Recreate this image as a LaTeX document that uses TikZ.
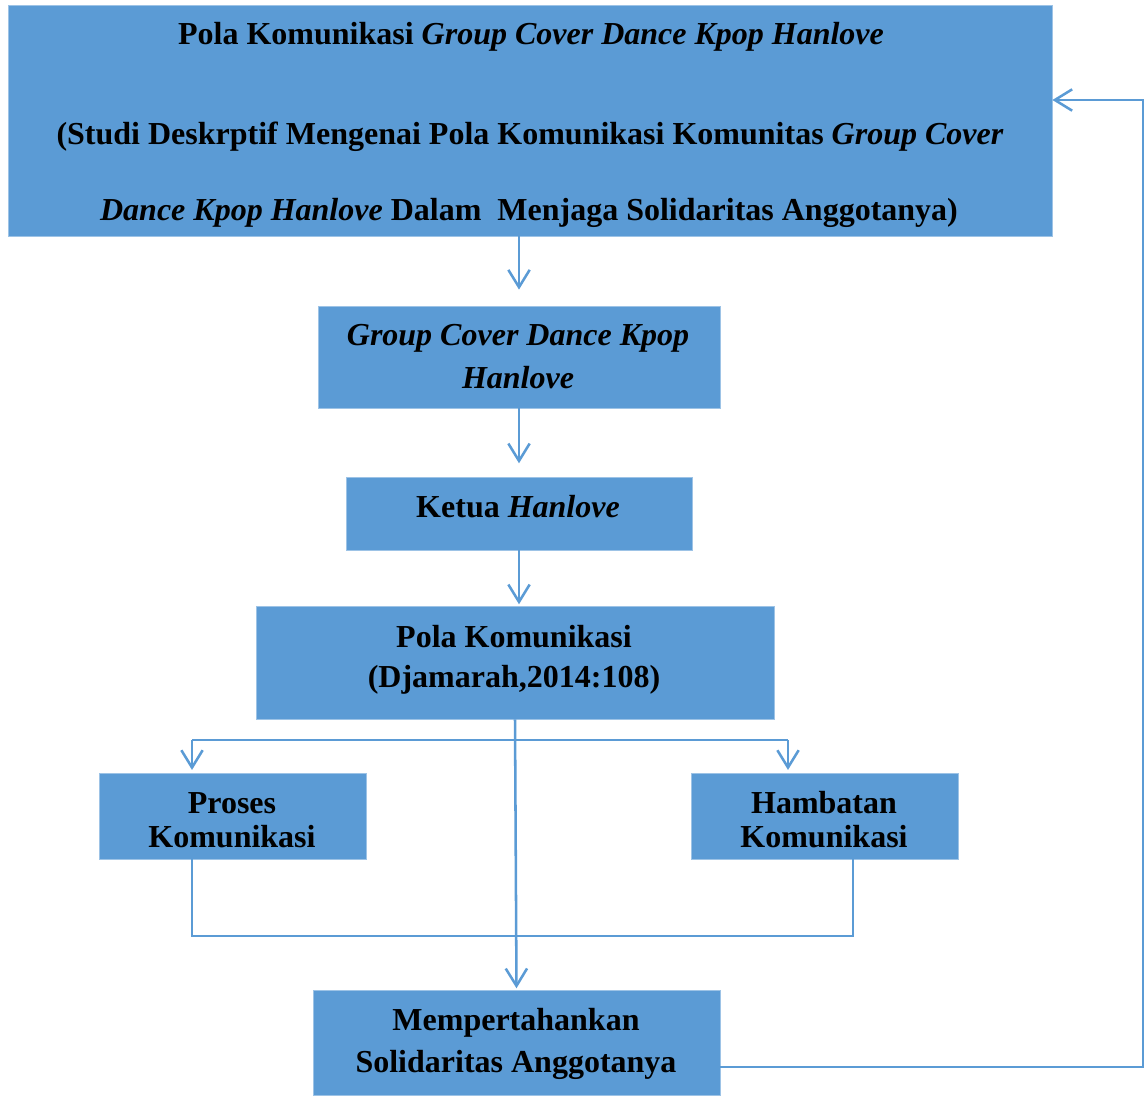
\documentclass[tikz,border=0pt]{standalone}
\usepackage{fontspec}
\setmainfont{Liberation Serif}
\usetikzlibrary{arrows.meta}
\definecolor{boxblue}{HTML}{5B9BD5}
\definecolor{edgeblue}{HTML}{9DC3E6}
\begin{document}
\begin{tikzpicture}[x=0.75pt,y=-0.75pt,
  box/.style={fill=boxblue, draw=edgeblue, line width=0.6pt, inner sep=0pt},
  txt/.style={anchor=base, inner sep=0pt, font=\fontsize{24}{28}\selectfont\bfseries, text=black},
  ln/.style={draw=boxblue, line width=1.9pt},
  arr/.style={ln, -{Straight Barb[length=13pt,width=16pt,line width=1.9pt]}}]
\useasboundingbox (0,0) rectangle (1148,1095);
% boxes
\node[box, minimum width=1044*0.75pt, minimum height=231*0.75pt] (top) at (530,120.5) {};
\node[box, minimum width=402*0.75pt, minimum height=102*0.75pt] (gcd) at (519,357) {};
\node[box, minimum width=346*0.75pt, minimum height=73*0.75pt] (ketua) at (519,513.5) {};
\node[box, minimum width=518*0.75pt, minimum height=113*0.75pt] (pola) at (515,662.5) {};
\node[box, minimum width=267*0.75pt, minimum height=86*0.75pt] (proses) at (232.5,816) {};
\node[box, minimum width=267*0.75pt, minimum height=86*0.75pt] (hamb) at (824.5,816) {};
\node[box, minimum width=407*0.75pt, minimum height=105*0.75pt] (mem) at (516.5,1042.5) {};
% texts
\node[txt] (t1a) at (531,45) {Pola Komunikasi \textit{Group Cover Dance Kpop Hanlove}};
\node[txt] (t1b) at (530,145) {(Studi Deskrptif Mengenai Pola Komunikasi Komunitas \textit{Group Cover}};
\node[txt] (t1c) at (529,220) {\textit{Dance Kpop Hanlove} Dalam\ \ Menjaga Solidaritas Anggotanya)};
\node[txt] (t2a) at (518,345) {\textit{Group Cover Dance Kpop}};
\node[txt] (t2b) at (518,388) {\textit{Hanlove}};
\node[txt] (t3) at (518,517) {Ketua \textit{Hanlove}};
\node[txt] (t4a) at (514,647) {Pola Komunikasi};
\node[txt] (t4b) at (514,687) {(Djamarah,2014:108)};
\node[txt] (t5a) at (232,813) {Proses};
\node[txt] (t5b) at (232,847) {Komunikasi};
\node[txt] (t6a) at (824,813) {Hambatan};
\node[txt] (t6b) at (824,847) {Komunikasi};
\node[txt] (t7a) at (516,1030) {Mempertahankan};
\node[txt] (t7b) at (516,1072) {Solidaritas Anggotanya};
% coordinates
\coordinate (bl) at (192,740);
\coordinate (br) at (788,740);
\coordinate (jl) at (192,936);
\coordinate (jr) at (853,936);
\coordinate (fb1) at (1143,1067);
\coordinate (fb2) at (1143,100);
% connectors
\draw[arr, shorten >=12pt] (top.south -| gcd.north) -- (gcd.north);
\draw[arr, shorten >=10pt] (gcd.south) -- (ketua.north);
\draw[arr, shorten >=1pt] (ketua.south) -- (ketua.south |- pola.north);
\draw[arr, shorten >=1pt] (pola.south) -- (mem.north);
\draw[ln] (bl) -- (br);
\draw[arr, shorten >=2pt] (bl) -- (proses.north -| bl);
\draw[arr, shorten >=2pt] (br) -- (hamb.north -| br);
\draw[ln] (proses.south -| jl) -- (jl) -- (jr) -- (hamb.south -| jr);
\draw[arr] (mem.east |- fb1) -- (fb1) -- (fb2) -- (top.east |- fb2);
\end{tikzpicture}
\end{document}
